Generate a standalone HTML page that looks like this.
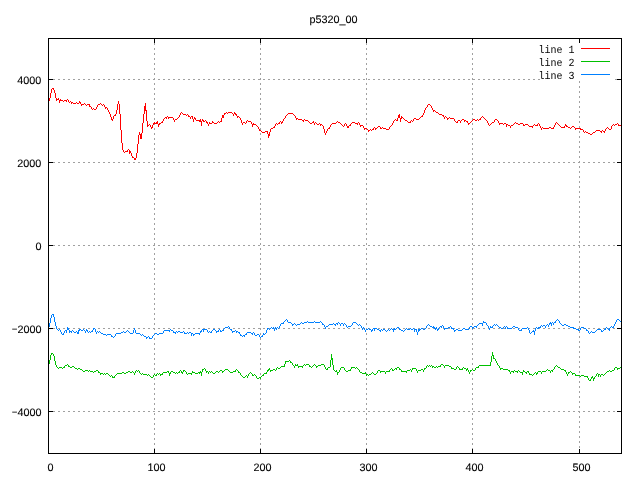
<!DOCTYPE html>
<html lang="en">
<head>
<meta charset="utf-8">
<title>p5320_00</title>
<style>
html,body{margin:0;padding:0;background:#fff;}
body{width:640px;height:480px;overflow:hidden;}
svg{display:block;}
.t{font-family:"Liberation Sans",Arial,sans-serif;font-size:10.8px;fill:#000;stroke:#000;stroke-width:0.1px;}
.k{font-family:"Liberation Mono","DejaVu Sans Mono",monospace;font-size:10px;fill:#000;}
</style>
</head>
<body>
<svg width="640" height="480" viewBox="0 0 640 480" shape-rendering="crispEdges">
<rect x="0" y="0" width="640" height="480" fill="#ffffff"/>
<g stroke="#a0a0a0" stroke-width="1" stroke-dasharray="2 3" fill="none">
<line x1="48" y1="79.5" x2="540" y2="79.5"/>
<line x1="615" y1="79.5" x2="622" y2="79.5"/>
<line x1="48" y1="162.5" x2="622" y2="162.5"/>
<line x1="48" y1="245.5" x2="622" y2="245.5"/>
<line x1="48" y1="328.5" x2="622" y2="328.5"/>
<line x1="48" y1="411.5" x2="622" y2="411.5"/>
<line x1="154.5" y1="38" x2="154.5" y2="454"/>
<line x1="260.5" y1="38" x2="260.5" y2="454"/>
<line x1="366.5" y1="38" x2="366.5" y2="454"/>
<line x1="472.5" y1="38" x2="472.5" y2="454"/>
<line x1="579.5" y1="81" x2="579.5" y2="454"/>
</g>
<path fill="#ff0000" d="M49 98h1v3h-1zM50 93h1v5h-1zM51 89h1v4h-1zM52 88h1v1h-1zM53 88h1v2h-1zM54 90h1v3h-1zM55 93h1v5h-1zM56 98h1v3h-1zM57 99h1v1h-1zM58 98h1v2h-1zM59 100h1v3h-1zM60 99h1v2h-1zM61 100h2v1h-2zM63 101h1v1h-1zM64 100h2v1h-2zM66 100h1v2h-1zM67 99h1v1h-1zM68 100h1v2h-1zM69 102h1v1h-1zM70 101h1v1h-1zM71 102h1v2h-1zM72 102h1v1h-1zM73 103h3v1h-3zM76 102h1v1h-1zM77 103h2v1h-2zM79 101h1v2h-1zM80 102h1v2h-1zM81 104h1v2h-1zM82 104h2v1h-2zM84 103h1v1h-1zM85 104h1v1h-1zM86 105h1v1h-1zM87 104h2v1h-2zM89 104h1v3h-1zM90 106h1v1h-1zM91 107h1v2h-1zM92 109h1v1h-1zM93 108h1v1h-1zM94 109h2v1h-2zM96 107h1v2h-1zM97 105h1v2h-1zM98 104h2v1h-2zM100 103h1v1h-1zM101 104h1v1h-1zM102 105h1v1h-1zM103 104h1v1h-1zM104 105h1v2h-1zM105 107h1v2h-1zM106 107h1v1h-1zM107 108h1v2h-1zM108 110h1v2h-1zM109 112h1v2h-1zM110 114h1v3h-1zM111 117h1v3h-1zM112 119h1v2h-1zM113 116h1v3h-1zM114 115h1v1h-1zM115 114h1v2h-1zM116 110h1v4h-1zM117 104h1v6h-1zM118 101h1v3h-1zM119 104h1v10h-1zM120 114h1v16h-1zM121 130h1v13h-1zM122 143h1v7h-1zM123 150h1v2h-1zM124 152h1v1h-1zM125 151h2v1h-2zM127 150h1v2h-1zM128 149h1v1h-1zM129 150h1v4h-1zM130 151h1v2h-1zM131 153h1v3h-1zM132 156h1v2h-1zM133 157h1v1h-1zM134 158h2v2h-2zM136 153h1v5h-1zM137 144h1v9h-1zM138 135h1v9h-1zM139 132h1v3h-1zM140 134h1v5h-1zM141 133h1v6h-1zM142 123h1v10h-1zM143 114h1v9h-1zM144 106h1v8h-1zM145 103h1v8h-1zM146 110h1v11h-1zM147 121h1v6h-1zM148 125h1v1h-1zM149 124h1v1h-1zM150 125h1v2h-1zM151 127h1v2h-1zM152 125h1v3h-1zM153 123h1v2h-1zM154 122h1v2h-1zM155 123h1v1h-1zM156 122h1v2h-1zM157 121h1v3h-1zM158 124h1v3h-1zM159 123h1v2h-1zM160 123h1v1h-1zM161 122h1v1h-1zM162 121h1v2h-1zM163 119h1v2h-1zM164 118h1v1h-1zM165 117h1v1h-1zM166 117h1v2h-1zM167 116h1v1h-1zM168 117h1v2h-1zM169 117h4v1h-4zM173 118h1v2h-1zM174 120h1v2h-1zM175 119h2v1h-2zM177 118h1v1h-1zM178 117h1v1h-1zM179 115h1v2h-1zM180 113h1v2h-1zM181 112h1v1h-1zM182 113h1v1h-1zM183 114h3v1h-3zM186 115h1v1h-1zM187 114h1v1h-1zM188 115h1v2h-1zM189 116h1v1h-1zM190 117h1v2h-1zM191 116h1v1h-1zM192 116h1v3h-1zM193 119h1v3h-1zM194 117h1v2h-1zM195 118h1v2h-1zM196 120h3v1h-3zM199 120h1v2h-1zM200 119h1v3h-1zM201 121h1v5h-1zM202 119h1v2h-1zM203 120h1v2h-1zM204 121h1v1h-1zM205 120h1v1h-1zM206 121h1v2h-1zM207 122h1v2h-1zM208 124h1v2h-1zM209 122h1v2h-1zM210 123h2v1h-2zM212 121h1v2h-1zM213 122h1v1h-1zM214 123h3v1h-3zM217 122h1v1h-1zM218 121h1v1h-1zM219 122h1v1h-1zM220 121h1v1h-1zM221 118h1v4h-1zM222 115h2v3h-2zM224 113h1v2h-1zM225 113h1v1h-1zM226 112h1v1h-1zM227 113h1v1h-1zM228 112h4v1h-4zM232 113h1v1h-1zM233 114h1v2h-1zM234 112h1v2h-1zM235 113h1v2h-1zM236 114h1v2h-1zM237 116h1v2h-1zM238 116h1v1h-1zM239 117h1v1h-1zM240 118h1v2h-1zM241 120h1v3h-1zM242 123h1v2h-1zM243 122h2v1h-2zM245 123h1v1h-1zM246 121h1v2h-1zM247 120h1v1h-1zM248 121h3v1h-3zM251 122h1v2h-1zM252 124h1v3h-1zM253 123h1v2h-1zM254 124h2v1h-2zM256 125h1v1h-1zM257 126h1v1h-1zM258 127h1v2h-1zM259 129h1v2h-1zM260 130h1v1h-1zM261 131h1v1h-1zM262 132h3v1h-3zM265 131h2v1h-2zM267 131h1v3h-1zM268 134h1v4h-1zM269 132h1v4h-1zM270 129h1v3h-1zM271 128h2v1h-2zM273 127h1v1h-1zM274 126h1v2h-1zM275 124h1v2h-1zM276 123h1v1h-1zM277 124h1v1h-1zM278 123h1v1h-1zM279 122h1v2h-1zM280 121h1v1h-1zM281 122h1v2h-1zM282 121h1v2h-1zM283 119h1v2h-1zM284 118h1v1h-1zM285 116h1v2h-1zM286 115h1v1h-1zM287 114h1v1h-1zM288 113h5v1h-5zM293 114h1v1h-1zM294 115h1v1h-1zM295 116h1v2h-1zM296 118h1v2h-1zM297 118h1v1h-1zM298 119h4v1h-4zM302 120h1v1h-1zM303 120h1v2h-1zM304 119h1v1h-1zM305 120h3v1h-3zM308 121h1v1h-1zM309 122h1v1h-1zM310 123h2v1h-2zM312 122h1v1h-1zM313 121h1v2h-1zM314 123h1v2h-1zM315 122h1v1h-1zM316 123h1v1h-1zM317 124h2v1h-2zM319 123h1v1h-1zM320 124h1v2h-1zM321 124h1v1h-1zM322 125h1v1h-1zM323 126h1v3h-1zM324 129h1v4h-1zM325 133h1v2h-1zM326 131h1v2h-1zM327 129h1v2h-1zM328 128h1v1h-1zM329 127h1v2h-1zM330 125h1v2h-1zM331 124h1v1h-1zM332 123h4v1h-4zM336 122h1v1h-1zM337 121h1v1h-1zM338 122h2v1h-2zM340 123h1v1h-1zM341 124h1v1h-1zM342 125h1v1h-1zM343 126h1v1h-1zM344 124h1v2h-1zM345 123h1v1h-1zM346 124h1v2h-1zM347 126h2v2h-2zM349 125h1v1h-1zM350 124h1v2h-1zM351 123h1v1h-1zM352 122h3v1h-3zM355 123h2v1h-2zM357 123h1v2h-1zM358 122h1v1h-1zM359 123h1v2h-1zM360 125h1v2h-1zM361 125h2v1h-2zM363 126h1v2h-1zM364 128h1v2h-1zM365 128h2v1h-2zM367 129h1v1h-1zM368 130h1v2h-1zM369 130h1v1h-1zM370 129h1v1h-1zM371 130h1v1h-1zM372 129h1v1h-1zM373 128h1v2h-1zM374 127h1v1h-1zM375 128h1v2h-1zM376 128h1v1h-1zM377 127h1v1h-1zM378 126h2v1h-2zM380 127h1v2h-1zM381 128h1v1h-1zM382 127h1v1h-1zM383 128h3v1h-3zM386 129h3v1h-3zM389 127h1v2h-1zM390 126h1v1h-1zM391 125h1v1h-1zM392 123h1v2h-1zM393 121h1v2h-1zM394 120h1v1h-1zM395 119h1v1h-1zM396 120h1v1h-1zM397 118h1v3h-1zM398 115h1v3h-1zM399 114h1v4h-1zM400 118h1v4h-1zM401 116h1v3h-1zM402 117h1v1h-1zM403 118h1v1h-1zM404 119h1v1h-1zM405 120h2v1h-2zM407 121h1v1h-1zM408 122h2v1h-2zM410 121h1v2h-1zM411 120h1v1h-1zM412 121h1v1h-1zM413 119h1v2h-1zM414 118h2v1h-2zM416 119h3v1h-3zM419 118h1v1h-1zM420 117h1v1h-1zM421 116h1v1h-1zM422 115h1v2h-1zM423 113h1v2h-1zM424 110h1v3h-1zM425 108h1v2h-1zM426 107h1v1h-1zM427 105h1v2h-1zM428 104h2v1h-2zM430 105h1v1h-1zM431 106h1v2h-1zM432 108h1v2h-1zM433 110h1v2h-1zM434 110h1v1h-1zM435 111h1v1h-1zM436 112h2v1h-2zM438 113h1v1h-1zM439 114h3v1h-3zM442 115h1v1h-1zM443 115h1v2h-1zM444 117h1v2h-1zM445 116h1v1h-1zM446 117h1v1h-1zM447 118h1v2h-1zM448 118h1v1h-1zM449 117h1v1h-1zM450 118h4v1h-4zM454 119h1v2h-1zM455 121h1v1h-1zM456 122h1v1h-1zM457 121h1v2h-1zM458 120h2v1h-2zM460 121h1v2h-1zM461 120h1v1h-1zM462 119h2v1h-2zM464 120h1v2h-1zM465 120h1v1h-1zM466 121h1v1h-1zM467 121h1v2h-1zM468 123h1v2h-1zM469 123h1v1h-1zM470 122h1v1h-1zM471 121h1v1h-1zM472 120h1v1h-1zM473 119h2v1h-2zM475 120h2v1h-2zM477 119h1v1h-1zM478 120h1v1h-1zM479 119h1v1h-1zM480 118h1v2h-1zM481 117h1v1h-1zM482 116h1v1h-1zM483 117h1v1h-1zM484 118h1v1h-1zM485 119h1v1h-1zM486 120h1v1h-1zM487 121h1v2h-1zM488 123h1v2h-1zM489 125h1v1h-1zM490 124h1v1h-1zM491 123h1v1h-1zM492 122h2v1h-2zM494 120h1v2h-1zM495 119h2v1h-2zM497 120h1v1h-1zM498 121h1v2h-1zM499 123h1v2h-1zM500 123h3v1h-3zM503 124h1v1h-1zM504 123h2v1h-2zM506 124h1v3h-1zM507 124h1v1h-1zM508 125h2v1h-2zM510 126h1v2h-1zM511 125h2v1h-2zM513 124h1v1h-1zM514 123h1v1h-1zM515 122h1v1h-1zM516 123h2v1h-2zM518 124h2v1h-2zM520 123h3v1h-3zM523 124h1v2h-1zM524 125h1v1h-1zM525 124h3v1h-3zM528 125h1v1h-1zM529 126h3v1h-3zM532 126h1v2h-1zM533 125h1v1h-1zM534 124h1v1h-1zM535 125h2v1h-2zM537 124h1v2h-1zM538 123h1v1h-1zM539 124h1v2h-1zM540 126h1v2h-1zM541 128h1v2h-1zM542 127h1v1h-1zM543 128h6v1h-6zM549 127h2v1h-2zM551 128h2v1h-2zM553 127h1v2h-1zM554 125h1v2h-1zM555 123h1v2h-1zM556 122h1v1h-1zM557 123h1v1h-1zM558 124h1v1h-1zM559 125h1v1h-1zM560 126h1v1h-1zM561 127h3v1h-3zM564 126h1v2h-1zM565 124h1v2h-1zM566 125h1v2h-1zM567 126h1v1h-1zM568 127h2v1h-2zM570 128h1v1h-1zM571 127h1v1h-1zM572 126h2v1h-2zM574 127h1v1h-1zM575 128h1v2h-1zM576 128h4v1h-4zM580 128h1v2h-1zM581 129h2v1h-2zM583 130h1v2h-1zM584 132h1v1h-1zM585 131h1v1h-1zM586 132h2v1h-2zM588 133h2v1h-2zM590 134h2v1h-2zM592 133h1v1h-1zM593 132h2v1h-2zM595 131h1v1h-1zM596 130h4v1h-4zM600 131h1v1h-1zM601 131h1v2h-1zM602 130h1v1h-1zM603 131h1v1h-1zM604 131h1v2h-1zM605 129h1v2h-1zM606 128h1v1h-1zM607 127h1v1h-1zM608 128h1v1h-1zM609 129h2v1h-2zM611 126h1v3h-1zM612 125h1v1h-1zM613 124h1v1h-1zM614 125h1v1h-1zM615 124h2v1h-2zM617 123h1v1h-1zM618 124h1v2h-1zM619 125h2v1h-2z"/>
<path fill="#00c000" d="M49 360h1v4h-1zM50 355h1v5h-1zM51 353h1v2h-1zM52 353h1v1h-1zM53 354h1v2h-1zM54 356h1v5h-1zM55 361h1v4h-1zM56 365h1v2h-1zM57 367h1v1h-1zM58 368h1v1h-1zM59 367h3v1h-3zM62 368h1v1h-1zM63 367h1v1h-1zM64 366h1v2h-1zM65 365h2v1h-2zM67 364h1v1h-1zM68 365h1v2h-1zM69 366h1v1h-1zM70 367h2v1h-2zM72 366h2v1h-2zM74 367h1v1h-1zM75 368h2v1h-2zM77 369h1v1h-1zM78 368h2v1h-2zM80 369h2v1h-2zM82 370h1v1h-1zM83 371h2v1h-2zM85 370h3v1h-3zM88 371h1v1h-1zM89 370h1v1h-1zM90 371h3v1h-3zM93 372h1v1h-1zM94 371h2v1h-2zM96 370h2v1h-2zM98 371h1v2h-1zM99 372h1v1h-1zM100 373h1v2h-1zM101 373h2v1h-2zM103 374h1v1h-1zM104 373h1v1h-1zM105 374h1v1h-1zM106 373h2v1h-2zM108 374h1v1h-1zM109 375h1v1h-1zM110 376h1v1h-1zM111 375h1v1h-1zM112 376h1v2h-1zM113 377h1v1h-1zM114 376h1v2h-1zM115 375h1v1h-1zM116 374h1v1h-1zM117 373h5v1h-5zM122 372h2v1h-2zM124 373h2v1h-2zM126 372h2v1h-2zM128 371h2v1h-2zM130 372h2v1h-2zM132 371h1v1h-1zM133 372h1v1h-1zM134 373h1v2h-1zM135 371h1v2h-1zM136 370h1v1h-1zM137 371h1v1h-1zM138 370h1v1h-1zM139 371h1v2h-1zM140 373h1v1h-1zM141 374h1v1h-1zM142 373h1v1h-1zM143 374h4v1h-4zM147 375h1v1h-1zM148 374h1v1h-1zM149 375h1v1h-1zM150 376h1v1h-1zM151 377h2v1h-2zM153 375h1v2h-1zM154 374h1v1h-1zM155 375h1v1h-1zM156 374h1v2h-1zM157 373h1v1h-1zM158 374h1v1h-1zM159 373h1v1h-1zM160 374h1v2h-1zM161 374h1v1h-1zM162 373h1v2h-1zM163 372h4v1h-4zM167 371h1v1h-1zM168 371h1v2h-1zM169 373h1v3h-1zM170 372h1v2h-1zM171 371h2v1h-2zM173 372h2v1h-2zM175 373h1v1h-1zM176 372h1v1h-1zM177 373h1v1h-1zM178 372h1v1h-1zM179 371h1v2h-1zM180 370h1v1h-1zM181 371h1v2h-1zM182 372h1v2h-1zM183 370h1v2h-1zM184 370h1v1h-1zM185 371h1v1h-1zM186 372h1v2h-1zM187 374h1v1h-1zM188 373h3v1h-3zM191 373h1v2h-1zM192 371h1v2h-1zM193 372h2v1h-2zM195 373h3v1h-3zM198 372h1v1h-1zM199 372h1v2h-1zM200 371h1v2h-1zM201 372h1v4h-1zM202 369h1v3h-1zM203 369h1v1h-1zM204 368h1v1h-1zM205 369h1v2h-1zM206 371h1v2h-1zM207 371h1v1h-1zM208 372h1v2h-1zM209 371h1v1h-1zM210 372h1v1h-1zM211 371h1v1h-1zM212 372h1v1h-1zM213 373h2v1h-2zM215 372h1v1h-1zM216 371h2v1h-2zM218 372h1v1h-1zM219 371h1v1h-1zM220 370h2v1h-2zM222 371h1v2h-1zM223 371h1v1h-1zM224 370h1v1h-1zM225 369h3v1h-3zM228 370h1v1h-1zM229 371h1v1h-1zM230 372h3v1h-3zM233 371h2v1h-2zM235 370h1v2h-1zM236 369h1v1h-1zM237 370h1v1h-1zM238 371h1v2h-1zM239 372h1v1h-1zM240 373h1v2h-1zM241 375h1v1h-1zM242 376h1v1h-1zM243 377h2v1h-2zM245 376h1v1h-1zM246 375h1v1h-1zM247 376h1v2h-1zM248 374h1v2h-1zM249 373h1v1h-1zM250 372h1v1h-1zM251 373h1v1h-1zM252 374h1v2h-1zM253 375h1v1h-1zM254 374h1v1h-1zM255 375h1v1h-1zM256 376h1v2h-1zM257 378h2v1h-2zM259 377h1v1h-1zM260 377h1v2h-1zM261 376h1v1h-1zM262 375h1v1h-1zM263 374h1v2h-1zM264 373h2v1h-2zM266 372h1v2h-1zM267 370h1v2h-1zM268 369h1v2h-1zM269 368h1v2h-1zM270 370h1v2h-1zM271 370h2v1h-2zM273 369h2v1h-2zM275 370h1v1h-1zM276 368h1v2h-1zM277 367h1v1h-1zM278 368h2v1h-2zM280 367h1v1h-1zM281 366h3v1h-3zM284 364h1v3h-1zM285 361h1v3h-1zM286 361h3v1h-3zM289 360h1v1h-1zM290 361h1v2h-1zM291 362h1v1h-1zM292 363h1v2h-1zM293 365h1v1h-1zM294 366h1v2h-1zM295 364h1v2h-1zM296 365h1v1h-1zM297 364h1v2h-1zM298 366h1v2h-1zM299 366h3v1h-3zM302 366h1v2h-1zM303 365h1v1h-1zM304 364h1v1h-1zM305 365h1v1h-1zM306 364h3v1h-3zM309 365h1v2h-1zM310 366h1v1h-1zM311 367h1v1h-1zM312 366h1v1h-1zM313 365h1v1h-1zM314 364h1v1h-1zM315 365h1v1h-1zM316 366h1v2h-1zM317 366h1v1h-1zM318 365h3v1h-3zM321 364h3v1h-3zM324 365h1v2h-1zM325 367h1v2h-1zM326 369h1v1h-1zM327 368h1v2h-1zM328 367h2v1h-2zM330 360h1v7h-1zM331 354h1v6h-1zM332 358h1v7h-1zM333 365h1v5h-1zM334 370h1v1h-1zM335 371h1v1h-1zM336 370h1v2h-1zM337 372h1v3h-1zM338 372h1v1h-1zM339 370h1v2h-1zM340 368h1v2h-1zM341 367h3v1h-3zM344 368h1v2h-1zM345 370h1v1h-1zM346 371h2v1h-2zM348 370h2v1h-2zM350 369h1v2h-1zM351 367h1v2h-1zM352 367h3v1h-3zM355 368h1v1h-1zM356 367h1v1h-1zM357 368h1v1h-1zM358 369h1v1h-1zM359 370h1v2h-1zM360 372h2v1h-2zM362 373h3v1h-3zM365 372h1v2h-1zM366 374h1v2h-1zM367 374h1v1h-1zM368 375h1v1h-1zM369 374h2v1h-2zM371 373h1v1h-1zM372 372h1v1h-1zM373 373h1v1h-1zM374 374h2v1h-2zM376 373h1v1h-1zM377 371h1v2h-1zM378 370h2v1h-2zM380 371h1v2h-1zM381 371h4v1h-4zM385 372h1v2h-1zM386 371h3v1h-3zM389 370h1v2h-1zM390 369h1v1h-1zM391 368h1v1h-1zM392 369h1v2h-1zM393 370h1v1h-1zM394 369h1v1h-1zM395 368h1v1h-1zM396 368h1v2h-1zM397 367h2v1h-2zM399 368h1v2h-1zM400 369h1v1h-1zM401 370h1v2h-1zM402 371h4v1h-4zM406 371h1v2h-1zM407 370h3v1h-3zM410 369h1v1h-1zM411 370h1v2h-1zM412 368h1v2h-1zM413 368h3v1h-3zM416 369h1v2h-1zM417 371h1v2h-1zM418 370h3v1h-3zM421 369h2v1h-2zM423 370h1v2h-1zM424 368h1v2h-1zM425 368h1v1h-1zM426 366h1v2h-1zM427 365h1v1h-1zM428 366h1v1h-1zM429 365h1v1h-1zM430 366h1v1h-1zM431 365h1v1h-1zM432 366h1v2h-1zM433 366h1v1h-1zM434 367h2v1h-2zM436 366h1v1h-1zM437 367h1v1h-1zM438 366h2v1h-2zM440 365h1v2h-1zM441 364h2v1h-2zM443 365h1v1h-1zM444 366h1v2h-1zM445 365h4v1h-4zM449 366h2v1h-2zM451 367h1v2h-1zM452 368h2v1h-2zM454 369h2v1h-2zM456 367h1v2h-1zM457 366h1v1h-1zM458 367h1v1h-1zM459 368h1v2h-1zM460 369h2v1h-2zM462 368h1v2h-1zM463 367h1v1h-1zM464 368h2v1h-2zM466 369h1v2h-1zM467 368h1v2h-1zM468 370h1v2h-1zM469 372h1v2h-1zM470 370h1v2h-1zM471 370h1v1h-1zM472 369h1v1h-1zM473 370h2v1h-2zM475 368h1v2h-1zM476 367h2v1h-2zM478 366h1v2h-1zM479 365h11v1h-11zM490 362h1v4h-1zM491 356h1v6h-1zM492 352h1v4h-1zM493 355h1v4h-1zM494 358h1v1h-1zM495 359h1v2h-1zM496 361h1v2h-1zM497 363h1v2h-1zM498 365h1v1h-1zM499 366h1v2h-1zM500 368h1v2h-1zM501 368h2v1h-2zM503 369h5v1h-5zM508 370h1v1h-1zM509 370h1v2h-1zM510 372h1v2h-1zM511 371h2v1h-2zM513 371h1v2h-1zM514 370h1v1h-1zM515 371h2v1h-2zM517 371h1v2h-1zM518 370h1v1h-1zM519 371h1v1h-1zM520 372h2v1h-2zM522 372h1v3h-1zM523 370h1v2h-1zM524 371h1v1h-1zM525 372h1v1h-1zM526 372h1v2h-1zM527 371h1v1h-1zM528 371h1v2h-1zM529 373h1v2h-1zM530 374h2v1h-2zM532 375h1v1h-1zM533 374h1v1h-1zM534 373h1v1h-1zM535 372h1v1h-1zM536 373h1v2h-1zM537 372h1v2h-1zM538 371h3v1h-3zM541 372h1v2h-1zM542 371h4v1h-4zM546 370h1v1h-1zM547 369h1v1h-1zM548 370h2v1h-2zM550 371h1v2h-1zM551 370h1v1h-1zM552 370h1v2h-1zM553 369h1v1h-1zM554 367h1v2h-1zM555 366h1v1h-1zM556 365h1v1h-1zM557 366h1v1h-1zM558 367h2v1h-2zM560 368h1v1h-1zM561 369h3v1h-3zM564 370h1v1h-1zM565 370h1v2h-1zM566 372h1v2h-1zM567 374h1v2h-1zM568 372h1v2h-1zM569 372h1v1h-1zM570 371h1v1h-1zM571 372h1v1h-1zM572 373h1v2h-1zM573 373h2v1h-2zM575 374h1v2h-1zM576 375h4v1h-4zM580 376h1v1h-1zM581 375h3v1h-3zM584 376h3v1h-3zM587 376h1v2h-1zM588 378h1v2h-1zM589 380h1v1h-1zM590 379h1v2h-1zM591 377h1v2h-1zM592 376h1v2h-1zM593 378h1v3h-1zM594 377h1v2h-1zM595 376h1v1h-1zM596 374h1v2h-1zM597 373h1v1h-1zM598 374h1v3h-1zM599 374h1v1h-1zM600 375h1v2h-1zM601 374h2v1h-2zM603 375h1v1h-1zM604 374h1v1h-1zM605 373h1v1h-1zM606 372h1v1h-1zM607 371h2v1h-2zM609 370h1v1h-1zM610 371h2v1h-2zM612 370h2v1h-2zM614 368h1v2h-1zM615 367h2v1h-2zM617 368h1v2h-1zM618 368h2v1h-2zM620 367h1v1h-1z"/>
<path fill="#0080ff" d="M49 323h1v4h-1zM50 318h1v5h-1zM51 315h1v3h-1zM52 314h1v1h-1zM53 314h1v3h-1zM54 317h1v5h-1zM55 322h1v4h-1zM56 326h1v3h-1zM57 329h1v1h-1zM58 330h1v1h-1zM59 329h1v1h-1zM60 330h1v2h-1zM61 332h1v2h-1zM62 334h1v1h-1zM63 333h1v2h-1zM64 331h1v2h-1zM65 330h1v1h-1zM66 330h1v3h-1zM67 327h1v3h-1zM68 328h1v2h-1zM69 330h1v3h-1zM70 331h1v1h-1zM71 331h1v2h-1zM72 330h1v1h-1zM73 331h1v1h-1zM74 332h2v1h-2zM76 331h1v1h-1zM77 332h1v2h-1zM78 330h1v4h-1zM79 329h1v2h-1zM80 329h1v1h-1zM81 330h2v1h-2zM83 329h1v1h-1zM84 330h1v1h-1zM85 331h1v2h-1zM86 329h1v2h-1zM87 330h1v2h-1zM88 332h1v1h-1zM89 331h1v1h-1zM90 332h1v1h-1zM91 331h1v1h-1zM92 330h1v2h-1zM93 328h1v2h-1zM94 328h1v1h-1zM95 329h1v3h-1zM96 332h1v2h-1zM97 331h1v1h-1zM98 332h1v1h-1zM99 331h1v1h-1zM100 332h1v1h-1zM101 333h2v1h-2zM103 334h3v1h-3zM106 335h1v1h-1zM107 334h4v1h-4zM111 335h1v2h-1zM112 336h1v1h-1zM113 337h1v1h-1zM114 336h1v1h-1zM115 334h1v2h-1zM116 333h5v1h-5zM121 332h2v1h-2zM123 331h1v1h-1zM124 332h2v1h-2zM126 331h1v1h-1zM127 330h1v1h-1zM128 331h1v1h-1zM129 332h1v1h-1zM130 333h3v1h-3zM133 330h1v3h-1zM134 328h1v2h-1zM135 330h1v3h-1zM136 333h4v1h-4zM140 334h1v1h-1zM141 335h1v1h-1zM142 334h1v1h-1zM143 335h1v1h-1zM144 336h2v1h-2zM146 337h1v2h-1zM147 337h1v1h-1zM148 336h1v1h-1zM149 337h1v2h-1zM150 338h2v1h-2zM152 336h1v2h-1zM153 335h1v1h-1zM154 334h1v1h-1zM155 333h2v1h-2zM157 334h2v1h-2zM159 333h4v1h-4zM163 331h1v2h-1zM164 330h5v1h-5zM169 330h1v2h-1zM170 329h1v1h-1zM171 330h2v1h-2zM173 331h1v2h-1zM174 332h1v1h-1zM175 332h1v2h-1zM176 331h1v1h-1zM177 332h1v1h-1zM178 331h2v1h-2zM180 332h3v1h-3zM183 331h1v1h-1zM184 332h1v2h-1zM185 333h2v1h-2zM187 332h1v1h-1zM188 333h1v1h-1zM189 332h2v1h-2zM191 333h1v3h-1zM192 333h1v1h-1zM193 334h1v2h-1zM194 334h1v1h-1zM195 333h4v1h-4zM199 333h1v2h-1zM200 331h1v2h-1zM201 330h1v2h-1zM202 329h1v1h-1zM203 329h1v3h-1zM204 329h3v1h-3zM207 330h1v2h-1zM208 332h1v1h-1zM209 331h1v1h-1zM210 332h1v1h-1zM211 331h1v2h-1zM212 330h1v1h-1zM213 329h2v1h-2zM215 330h1v1h-1zM216 331h1v2h-1zM217 331h1v1h-1zM218 330h1v2h-1zM219 329h1v1h-1zM220 330h1v2h-1zM221 331h1v1h-1zM222 330h1v1h-1zM223 329h1v2h-1zM224 328h1v1h-1zM225 327h3v1h-3zM228 326h1v1h-1zM229 327h1v2h-1zM230 329h1v1h-1zM231 329h1v2h-1zM232 331h1v2h-1zM233 331h2v1h-2zM235 330h1v1h-1zM236 331h1v2h-1zM237 331h1v1h-1zM238 332h1v1h-1zM239 332h1v2h-1zM240 334h1v2h-1zM241 335h1v1h-1zM242 336h1v1h-1zM243 335h1v1h-1zM244 335h1v2h-1zM245 334h1v1h-1zM246 333h1v2h-1zM247 332h4v1h-4zM251 333h1v1h-1zM252 333h1v2h-1zM253 332h1v1h-1zM254 333h1v2h-1zM255 335h2v1h-2zM257 334h2v1h-2zM259 335h1v2h-1zM260 337h1v1h-1zM261 336h1v1h-1zM262 335h1v2h-1zM263 333h1v2h-1zM264 334h1v1h-1zM265 333h1v1h-1zM266 330h1v3h-1zM267 328h1v2h-1zM268 328h1v1h-1zM269 329h1v1h-1zM270 328h1v1h-1zM271 327h1v1h-1zM272 328h1v1h-1zM273 327h1v2h-1zM274 329h1v2h-1zM275 327h1v2h-1zM276 328h1v2h-1zM277 327h1v1h-1zM278 328h1v1h-1zM279 326h1v2h-1zM280 324h1v2h-1zM281 323h2v1h-2zM283 322h1v2h-1zM284 321h1v1h-1zM285 320h1v1h-1zM286 319h1v1h-1zM287 320h1v2h-1zM288 322h3v1h-3zM291 323h1v1h-1zM292 324h1v2h-1zM293 324h1v1h-1zM294 323h1v1h-1zM295 324h1v1h-1zM296 325h1v1h-1zM297 324h3v1h-3zM300 323h1v1h-1zM301 322h1v1h-1zM302 323h2v1h-2zM304 322h3v1h-3zM307 321h1v1h-1zM308 322h6v1h-6zM314 321h1v1h-1zM315 322h5v1h-5zM320 321h1v1h-1zM321 322h1v1h-1zM322 323h1v2h-1zM323 324h1v1h-1zM324 325h1v2h-1zM325 327h1v2h-1zM326 326h2v1h-2zM328 325h1v1h-1zM329 324h4v1h-4zM333 323h1v1h-1zM334 324h1v1h-1zM335 324h1v2h-1zM336 323h1v1h-1zM337 323h1v2h-1zM338 322h1v1h-1zM339 323h1v1h-1zM340 324h1v2h-1zM341 323h2v1h-2zM343 324h1v2h-1zM344 323h1v1h-1zM345 324h1v1h-1zM346 325h1v2h-1zM347 327h1v1h-1zM348 326h3v1h-3zM351 325h1v1h-1zM352 323h1v2h-1zM353 322h3v1h-3zM356 323h1v1h-1zM357 324h1v1h-1zM358 325h1v1h-1zM359 324h1v1h-1zM360 325h1v1h-1zM361 326h1v2h-1zM362 328h1v2h-1zM363 327h1v1h-1zM364 328h1v2h-1zM365 330h1v2h-1zM366 329h2v1h-2zM368 328h1v1h-1zM369 329h2v1h-2zM371 330h1v2h-1zM372 329h1v2h-1zM373 328h1v1h-1zM374 328h1v3h-1zM375 328h2v1h-2zM377 329h2v1h-2zM379 330h1v1h-1zM380 330h1v2h-1zM381 329h1v1h-1zM382 330h1v1h-1zM383 329h2v1h-2zM385 330h1v1h-1zM386 331h1v1h-1zM387 330h1v1h-1zM388 329h1v1h-1zM389 330h1v1h-1zM390 329h1v1h-1zM391 328h1v1h-1zM392 329h1v1h-1zM393 329h1v3h-1zM394 328h1v2h-1zM395 329h1v1h-1zM396 328h1v1h-1zM397 327h2v1h-2zM399 328h1v2h-1zM400 329h1v1h-1zM401 330h2v1h-2zM403 331h1v1h-1zM404 330h1v1h-1zM405 329h1v1h-1zM406 328h1v1h-1zM407 329h3v1h-3zM410 328h1v1h-1zM411 329h2v1h-2zM413 328h1v1h-1zM414 329h1v3h-1zM415 329h1v1h-1zM416 329h1v3h-1zM417 332h1v3h-1zM418 329h1v3h-1zM419 329h1v2h-1zM420 329h1v1h-1zM421 328h2v1h-2zM423 329h2v1h-2zM425 328h1v1h-1zM426 326h1v2h-1zM427 325h1v1h-1zM428 324h1v1h-1zM429 325h1v1h-1zM430 326h2v1h-2zM432 327h1v1h-1zM433 326h1v2h-1zM434 327h1v2h-1zM435 328h1v2h-1zM436 327h1v2h-1zM437 329h1v2h-1zM438 328h1v2h-1zM439 327h1v1h-1zM440 326h1v1h-1zM441 326h1v2h-1zM442 325h1v1h-1zM443 326h1v2h-1zM444 328h1v2h-1zM445 328h3v1h-3zM448 327h2v1h-2zM450 326h1v1h-1zM451 327h1v2h-1zM452 328h1v1h-1zM453 328h1v2h-1zM454 330h1v2h-1zM455 330h1v1h-1zM456 329h2v1h-2zM458 330h4v1h-4zM462 329h1v1h-1zM463 328h2v1h-2zM465 329h4v1h-4zM469 327h1v2h-1zM470 326h2v1h-2zM472 327h1v2h-1zM473 327h1v1h-1zM474 326h2v1h-2zM476 326h1v2h-1zM477 325h1v1h-1zM478 324h1v1h-1zM479 323h3v1h-3zM482 323h1v3h-1zM483 321h1v2h-1zM484 322h2v1h-2zM486 323h1v2h-1zM487 325h1v1h-1zM488 326h1v2h-1zM489 328h1v2h-1zM490 326h1v2h-1zM491 327h1v1h-1zM492 326h1v2h-1zM493 325h1v1h-1zM494 324h1v1h-1zM495 325h1v1h-1zM496 324h1v1h-1zM497 325h1v1h-1zM498 326h1v1h-1zM499 327h2v1h-2zM501 328h2v1h-2zM503 327h1v1h-1zM504 326h1v1h-1zM505 327h1v2h-1zM506 326h1v1h-1zM507 327h1v2h-1zM508 328h4v1h-4zM512 327h1v1h-1zM513 326h2v1h-2zM515 327h3v1h-3zM518 328h1v2h-1zM519 330h2v1h-2zM521 329h1v2h-1zM522 328h5v1h-5zM527 327h1v1h-1zM528 328h1v2h-1zM529 330h1v3h-1zM530 333h1v1h-1zM531 332h1v1h-1zM532 331h1v1h-1zM533 330h1v2h-1zM534 331h1v4h-1zM535 328h1v3h-1zM536 327h1v1h-1zM537 328h1v1h-1zM538 327h1v2h-1zM539 327h1v1h-1zM540 326h1v2h-1zM541 325h1v1h-1zM542 326h1v1h-1zM543 325h2v1h-2zM545 326h1v2h-1zM546 325h1v1h-1zM547 324h1v1h-1zM548 325h1v2h-1zM549 323h1v2h-1zM550 322h1v2h-1zM551 323h1v3h-1zM552 322h1v1h-1zM553 323h1v2h-1zM554 322h1v1h-1zM555 321h1v2h-1zM556 320h1v1h-1zM557 319h1v1h-1zM558 320h1v1h-1zM559 321h1v2h-1zM560 323h1v1h-1zM561 324h1v1h-1zM562 325h2v1h-2zM564 324h2v1h-2zM566 325h2v1h-2zM568 326h2v1h-2zM570 327h3v1h-3zM573 327h1v2h-1zM574 328h2v1h-2zM576 329h2v1h-2zM578 329h1v2h-1zM579 330h1v1h-1zM580 328h1v2h-1zM581 327h3v1h-3zM584 328h2v1h-2zM586 329h1v2h-1zM587 330h1v1h-1zM588 331h1v2h-1zM589 333h1v1h-1zM590 332h1v1h-1zM591 331h1v1h-1zM592 332h3v1h-3zM595 331h1v1h-1zM596 330h1v1h-1zM597 329h4v1h-4zM601 330h1v2h-1zM602 331h1v1h-1zM603 330h1v1h-1zM604 329h1v1h-1zM605 328h1v2h-1zM606 327h1v1h-1zM607 328h1v1h-1zM608 329h1v1h-1zM609 328h1v3h-1zM610 327h1v1h-1zM611 326h1v1h-1zM612 327h1v1h-1zM613 326h1v2h-1zM614 324h1v2h-1zM615 322h1v2h-1zM616 320h1v2h-1zM617 319h2v1h-2zM619 320h1v1h-1zM620 321h1v1h-1z"/>
<g>
<rect x="581" y="48" width="29" height="1" fill="#ff0000"/>
<rect x="581" y="61" width="29" height="1" fill="#00c000"/>
<rect x="581" y="74" width="29" height="1" fill="#0080ff"/>
</g>
<g fill="#000">
<rect x="48" y="79" width="5" height="1"/>
<rect x="617" y="79" width="5" height="1"/>
<rect x="48" y="162" width="5" height="1"/>
<rect x="617" y="162" width="5" height="1"/>
<rect x="48" y="245" width="5" height="1"/>
<rect x="617" y="245" width="5" height="1"/>
<rect x="48" y="328" width="5" height="1"/>
<rect x="617" y="328" width="5" height="1"/>
<rect x="48" y="411" width="5" height="1"/>
<rect x="617" y="411" width="5" height="1"/>
<rect x="48" y="449" width="1" height="5"/>
<rect x="48" y="38" width="1" height="5"/>
<rect x="154" y="449" width="1" height="5"/>
<rect x="154" y="38" width="1" height="5"/>
<rect x="260" y="449" width="1" height="5"/>
<rect x="260" y="38" width="1" height="5"/>
<rect x="366" y="449" width="1" height="5"/>
<rect x="366" y="38" width="1" height="5"/>
<rect x="472" y="449" width="1" height="5"/>
<rect x="472" y="38" width="1" height="5"/>
<rect x="579" y="449" width="1" height="5"/>
<rect x="579" y="38" width="1" height="5"/>
</g>
<g fill="#000">
<rect x="48" y="38" width="574" height="1"/>
<rect x="48" y="453" width="574" height="1"/>
<rect x="48" y="38" width="1" height="416"/>
<rect x="621" y="38" width="1" height="416"/>
</g>
<g text-rendering="geometricPrecision">
<text class="t" x="41.4" y="84" text-anchor="end">4000</text>
<text class="t" x="41.4" y="167" text-anchor="end">2000</text>
<text class="t" x="41.4" y="250" text-anchor="end">0</text>
<text class="t" x="11.6" y="333"><tspan dy="-0.8" textLength="6.2" lengthAdjust="spacingAndGlyphs">-</tspan><tspan dy="0.8" x="17.4">2000</tspan></text>
<text class="t" x="11.6" y="416"><tspan dy="-0.8" textLength="6.2" lengthAdjust="spacingAndGlyphs">-</tspan><tspan dy="0.8" x="17.4">4000</tspan></text>
<text class="t" x="50.5" y="471" text-anchor="middle">0</text>
<text class="t" x="156.5" y="471" text-anchor="middle">100</text>
<text class="t" x="262.5" y="471" text-anchor="middle">200</text>
<text class="t" x="368.5" y="471" text-anchor="middle">300</text>
<text class="t" x="474.5" y="471" text-anchor="middle">400</text>
<text class="t" x="581.5" y="471" text-anchor="middle">500</text>
<text class="t" x="333.4" y="23" text-anchor="middle">p5320_00</text>
<text class="k" transform="translate(574.4 53) scale(1 1.09)" x="0" y="0" text-anchor="end">line 1</text>
<text class="k" transform="translate(574.4 66) scale(1 1.09)" x="0" y="0" text-anchor="end">line 2</text>
<text class="k" transform="translate(574.4 79) scale(1 1.09)" x="0" y="0" text-anchor="end">line 3</text>
</g>
</svg>
</body>
</html>
